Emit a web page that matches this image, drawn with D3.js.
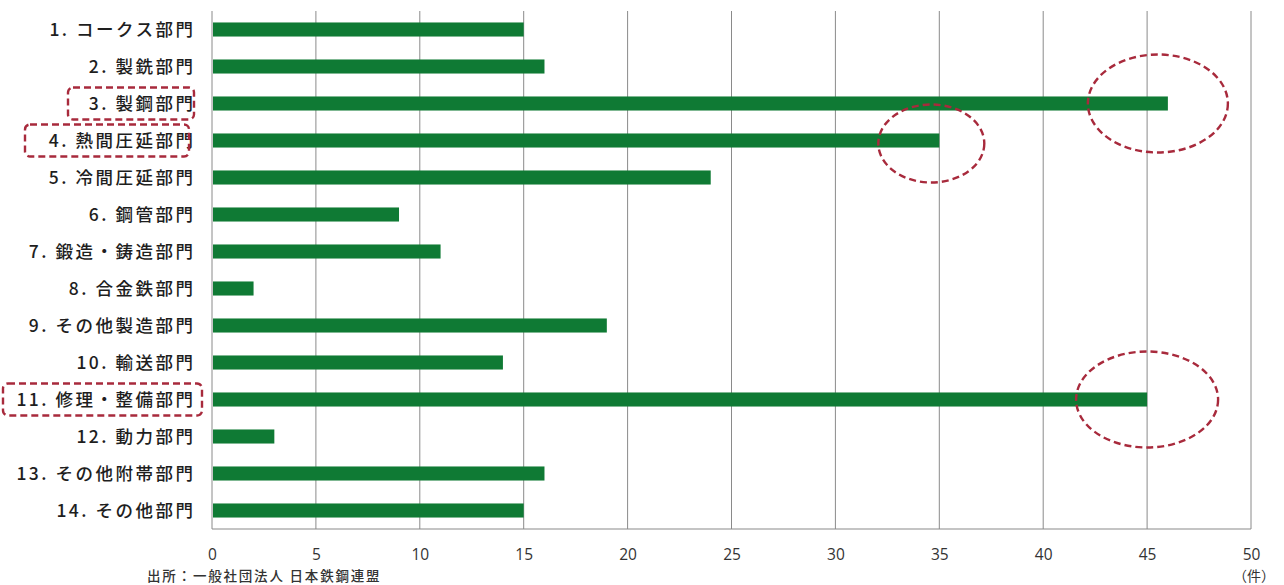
<!DOCTYPE html>
<html><head><meta charset="utf-8">
<script src="https://cdn.jsdelivr.net/npm/d3@7"></script>
<style>
html,body{margin:0;padding:0;background:#fff;}
svg{display:block;font-family:"Noto Sans CJK JP","Noto Sans",sans-serif;}
</style></head>
<body><svg id="c" width="1284" height="585"></svg>
<script>
const categories = ["1. コークス部門","2. 製銑部門","3. 製鋼部門","4. 熱間圧延部門","5. 冷間圧延部門","6. 鋼管部門","7. 鍛造・鋳造部門","8. 合金鉄部門","9. その他製造部門","10. 輸送部門","11. 修理・整備部門","12. 動力部門","13. その他附帯部門","14. その他部門"];
const values = [15,16,46,35,24,9,11,2,19,14,45,3,16,15];
const tickValues = [0,5,10,15,20,25,30,35,40,45,50];
const highlighted = ["3. 製鋼部門","4. 熱間圧延部門","11. 修理・整備部門"];
const unitLabel = "（件）";
const sourceText = "出所：一般社団法人 日本鉄鋼連盟";

(function(){
const svg = d3.select("#c");
const pL = 212, pR = 1251, pT = 11, pB = 529;
const x = d3.scaleLinear().domain([0,50]).range([pL,pR]);
const y = d3.scaleBand().domain(categories).range([pT,pB]).paddingInner(0.62).paddingOuter(0.31);

// gridlines
svg.append("g").selectAll("line").data(tickValues).join("line")
  .attr("x1",d=>x(d)).attr("x2",d=>x(d)).attr("y1",pT).attr("y2",pB)
  .attr("stroke","#8a8a8a").attr("stroke-width",1);
svg.append("line").attr("x1",pL).attr("x2",pR).attr("y1",pB).attr("y2",pB)
  .attr("stroke","#8a8a8a").attr("stroke-width",1.2);

// bars
svg.append("g").selectAll("rect").data(categories).join("rect")
  .attr("x",x(0)+1).attr("y",d=>y(d))
  .attr("width",(d,i)=>x(values[i])-x(0)-1).attr("height",y.bandwidth())
  .attr("fill","#0f7a34");

// category labels
svg.append("g").selectAll("text").data(categories).join("text")
  .attr("x",195.5).attr("y",d=>y(d)+y.bandwidth()/2).attr("dy","0.36em")
  .attr("text-anchor","end").attr("font-size",17.5).attr("font-weight",500)
  .attr("letter-spacing",2.5)
  .attr("fill","#1e1e1e").text(d=>d);

// x tick labels
const xAxis = d3.axisBottom(x).tickValues(tickValues).tickSize(0).tickPadding(0);
const ax = svg.append("g").attr("transform",`translate(0,${pB})`).call(xAxis);
ax.select(".domain").remove();
ax.selectAll("text").attr("y",31).attr("dy",0).attr("font-size",15.5)
  .attr("font-family","'Open Sans','Noto Sans',sans-serif").attr("fill","#333");

svg.append("text").attr("x",x(50)+3).attr("y",581).attr("text-anchor","middle")
  .attr("font-size",14).attr("fill","#333").text(unitLabel);
svg.append("text").attr("x",147).attr("y",581).attr("font-size",13.5).attr("font-weight",500)
  .attr("letter-spacing",1.8).attr("fill","#333").text(sourceText);

// annotations
const red = "#a82a3c";
const ann = svg.append("g").attr("fill","none").attr("stroke",red).attr("stroke-width",2.4).attr("stroke-dasharray","7,4");
const boxes = [
  {c:"3. 製鋼部門", x0:68, x1:194},
  {c:"4. 熱間圧延部門", x0:25, x1:189},
  {c:"11. 修理・整備部門", x0:3, x1:202}
];
boxes.forEach(b=>{
  const cy = y(b.c)+y.bandwidth()/2;
  ann.append("rect").attr("x",b.x0).attr("y",cy-16).attr("width",b.x1-b.x0).attr("height",32)
    .attr("rx",5).attr("ry",5);
});
const ells = [
  {c:"3. 製鋼部門", dx:-10, rx:70, ry:49},
  {c:"4. 熱間圧延部門", dx:-8, rx:53, ry:39, dy:3},
  {c:"11. 修理・整備部門", dx:0, rx:71, ry:48}
];
ells.forEach(e=>{
  const i = categories.indexOf(e.c);
  const cy = y(e.c)+y.bandwidth()/2 + (e.dy||0);
  ann.append("ellipse").attr("cx",x(values[i])+e.dx).attr("cy",cy).attr("rx",e.rx).attr("ry",e.ry);
});
})();
</script></body></html>
